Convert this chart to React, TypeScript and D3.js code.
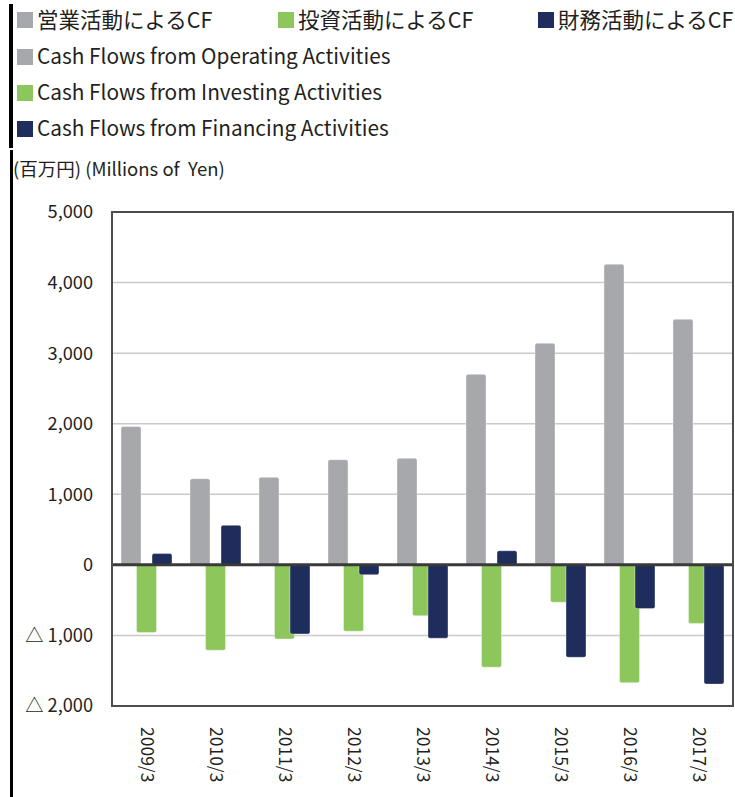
import React from "react";
import * as d3 from "d3";

const categories = ["2009/3", "2010/3", "2011/3", "2012/3", "2013/3", "2014/3", "2015/3", "2016/3", "2017/3"];
const operating = [1960, 1220, 1240, 1490, 1510, 2700, 3140, 4260, 3480];
const investing = [-960, -1210, -1050, -940, -720, -1450, -530, -1670, -830];
const financing = [160, 560, -980, -140, -1040, 200, -1310, -620, -1690];
const yTicks = [5000, 4000, 3000, 2000, 1000, 0, -1000, -2000];
const seriesKeys = ["op", "inv", "fin"];
const seriesColors = ["#a7a8ab", "#8dc75b", "#1f2d5c"];
const legendJa = ["営業活動によるCF", "投資活動によるCF", "財務活動によるCF"];
const legendEn = [
  "Cash Flows from Operating Activities",
  "Cash Flows from Investing Activities",
  "Cash Flows from Financing Activities",
];
const unitLabel = "(百万円) (Millions of  Yen)";

const W = 735;
const H = 797;
const FONT = "'Noto Sans CJK JP', 'Noto Sans', sans-serif";
const TXT = "#231f20";

export default function App() {
  const left = 112, right = 733, top = 212, bottom = 706;
  const x = d3.scaleBand<string>().domain(categories).range([left, right]).padding(0);
  const y = d3.scaleLinear().domain([-2000, 5000]).range([bottom, top]);
  const sub = d3.scalePoint<string>().domain(seriesKeys).range([-15.5, 15.5]);
  const barW = 20;
  const values = [operating, investing, financing];
  const fmt = (v: number) => (v < 0 ? "△ " + d3.format(",")(-v) : d3.format(",")(v));

  const legendX = [17, 278, 538];

  return (
    <svg width={W} height={H} style={{ position: "absolute", left: 0, top: 0, background: "#fff" }}
      fontFamily={FONT}>
      <rect x={0} y={0} width={W} height={H} fill="#fff" />
      {/* left black bars */}
      <rect x={9} y={4} width={4} height={144} fill="#000" />
      <rect x={10} y={150} width={3} height={H - 150} fill="#000" />

      {/* legend row 1 */}
      {legendJa.map((t, i) => (
        <g key={"lj" + i}>
          <rect x={legendX[i]} y={12} width={16} height={16} fill={seriesColors[i]} />
          <text x={legendX[i] + 20} y={20} dy="0.35em" fontSize={21.5} fill={TXT}>{t}</text>
        </g>
      ))}
      {legendEn.map((t, i) => (
        <g key={"le" + i}>
          <rect x={17} y={49 + i * 36} width={16} height={16} fill={seriesColors[i]} />
          <text x={37} y={57 + i * 36} dy="0.35em" fontSize={20.8} fill={TXT}>{t}</text>
        </g>
      ))}

      <text x={13} y={170} dy="0.35em" fontSize={18.5} fill={TXT} style={{ whiteSpace: "pre" }}>{unitLabel}</text>

      {/* gridlines */}
      {yTicks.filter((v) => v !== 0 && v !== 5000 && v !== -2000).map((v) => (
        <line key={"g" + v} x1={left} x2={right} y1={y(v)} y2={y(v)} stroke="#c9c9c9" strokeWidth={1.5} />
      ))}

      {/* y tick labels */}
      {yTicks.map((v) => (
        <text key={"yt" + v} x={93} y={y(v)} dy="0.35em" textAnchor="end" fontSize={18.2} fill={TXT}
          style={{ whiteSpace: "pre" }}>{fmt(v)}</text>
      ))}

      {/* bars */}
      {seriesKeys.map((k, si) => (
        <g key={k}>
          {categories.map((c, ci) => {
            const v = values[si][ci];
            const cx = (x(c) as number) + x.bandwidth() / 2 + (sub(k) as number);
            const y0 = y(0), y1 = y(v);
            return (
              <rect key={c} x={cx - barW / 2} y={Math.min(y0, y1)} width={barW}
                height={Math.abs(y1 - y0)} rx={2} ry={2} fill={seriesColors[si]}
                stroke="#ffffff" strokeOpacity={0.6} strokeWidth={0.6} />
            );
          })}
        </g>
      ))}

      {/* zero line */}
      <line x1={left} x2={right} y1={y(0)} y2={y(0)} stroke="#3a3a3a" strokeWidth={3} />
      {/* frame */}
      <rect x={left} y={top} width={right - left} height={bottom - top} fill="none" stroke="#4d4d4d" strokeWidth={2} />

      {/* x labels */}
      {categories.map((c) => {
        const cx = (x(c) as number) + x.bandwidth() / 2 + 1;
        return (
          <text key={"xl" + c} transform={`translate(${cx},${727}) rotate(90)`} dy="0.35em"
            fontSize={17.5} fill={TXT}>{c}</text>
        );
      })}
    </svg>
  );
}
